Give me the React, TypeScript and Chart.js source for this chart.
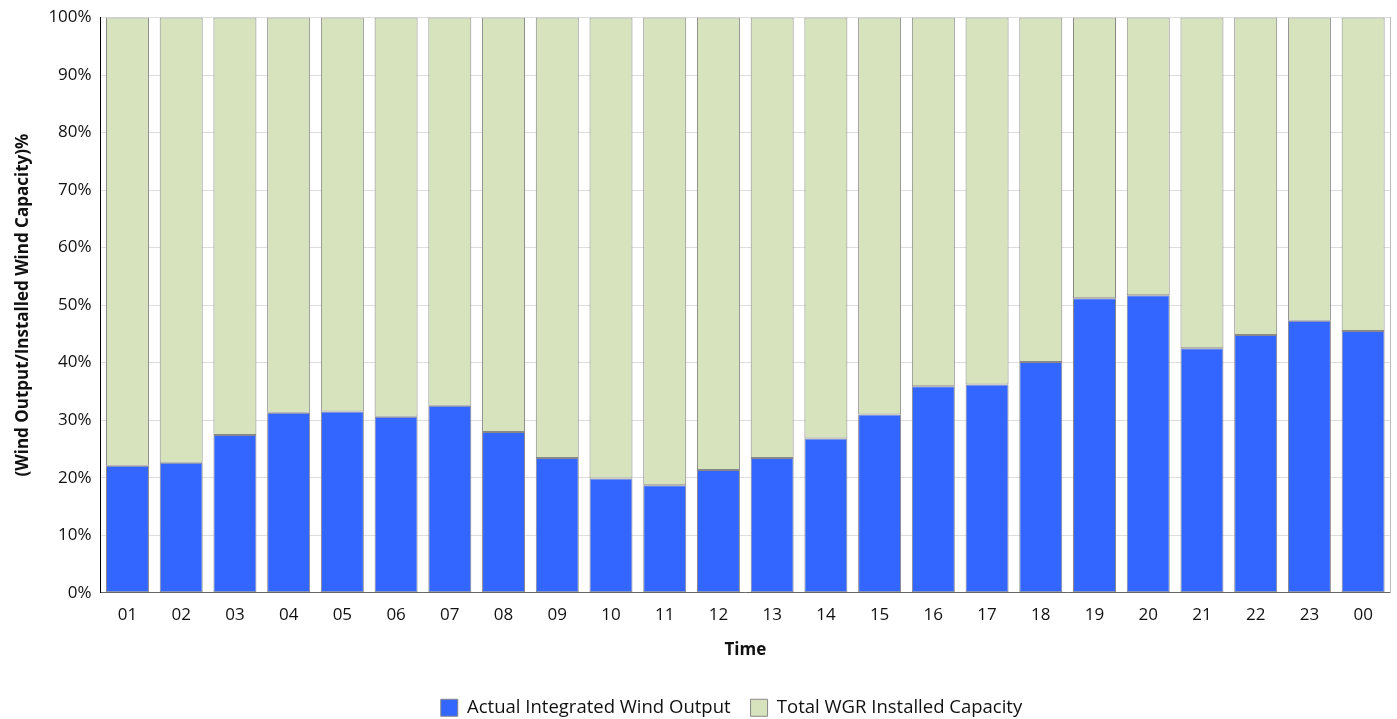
import React, { useEffect, useRef } from "react";
import { Chart, registerables } from "chart.js";

Chart.register(...registerables);

const hours = ["01","02","03","04","05","06","07","08","09","10","11","12","13","14","15","16","17","18","19","20","21","22","23","00"];
const actualOutput = [22.05,22.6,27.4,31.3,31.5,30.6,32.5,27.95,23.4,19.85,18.7,21.35,23.4,26.8,31.0,35.9,36.2,40.1,51.2,51.7,42.5,44.8,47.3,45.5];
const installedCapacity = [77.95,77.4,72.6,68.7,68.5,69.4,67.5,72.05,76.6,80.15,81.3,78.65,76.6,73.2,69.0,64.1,63.8,59.9,48.8,48.3,57.5,55.2,52.7,54.5];
const yTicks = [0,10,20,30,40,50,60,70,80,90,100];

const FONT = "'Open Sans', 'Noto Sans', sans-serif";

const legendShift = {
  id: "legendShift",
  afterLayout(chart: any) {
    const lg = chart.legend;
    if (lg) {
      lg.left += 32;
      lg.right += 32;
    }
  },
};

export default function App() {
  const ref = useRef<HTMLCanvasElement | null>(null);
  useEffect(() => {
    document.body.style.margin = "0";
    if (!ref.current) return;
    const chart = new Chart(ref.current, {
      type: "bar",
      data: {
        labels: hours,
        datasets: [
          {
            label: "Actual Integrated Wind Output",
            data: actualOutput,
            backgroundColor: "#3366FF",
            borderColor: "#888888",
            borderWidth: 1,
            borderSkipped: false,
          },
          {
            label: "Total WGR Installed Capacity",
            data: installedCapacity,
            backgroundColor: "#D7E3BD",
            borderColor: "#888888",
            borderWidth: 1,
            borderSkipped: false,
          },
        ],
      },
      plugins: [legendShift],
      options: {
        animation: false,
        responsive: true,
        maintainAspectRatio: false,
        layout: { padding: { top: 2, right: 7, left: 9, bottom: -8 } },
        datasets: { bar: { categoryPercentage: 0.8, barPercentage: 1 } },
        plugins: {
          legend: {
            position: "bottom",
            labels: {
              color: "#111",
              font: { family: FONT, size: 18.5 },
              boxWidth: 17,
              boxHeight: 17,
              padding: 20,
            },
          },
          tooltip: { enabled: false },
        },
        scales: {
          x: {
            stacked: true,
            grid: { display: false },
            border: { color: "#666", width: 1 },
            ticks: { color: "#111", font: { family: FONT, size: 17 }, padding: 4 },
            title: {
              display: true,
              text: "Time",
              color: "#111",
              font: { family: FONT, size: 17, weight: "bold" },
              padding: { top: 11, bottom: 18 },
            },
          },
          y: {
            stacked: true,
            min: 0,
            max: 100,
            afterBuildTicks: (axis: any) => {
              axis.ticks = yTicks.map((v) => ({ value: v }));
            },
            grid: { color: "#dddddd", drawTicks: false },
            border: { color: "#000", width: 1 },
            ticks: {
              color: "#111",
              font: { family: FONT, size: 17, lineHeight: 1 },
              padding: 9,
              callback: (v: any) => v + "%",
            },
            title: {
              display: true,
              text: "(Wind Output/Installed Wind Capacity)%",
              color: "#111",
              font: { family: FONT, size: 17, weight: "bold" },
              padding: { bottom: 6 },
            },
          },
          y2: {
            position: "right",
            min: 0,
            max: 100,
            grid: { display: false, drawTicks: false },
            border: { color: "#bbbbbb", width: 1 },
            ticks: { display: false },
          },
        },
      },
    });
    return () => chart.destroy();
  }, []);
  return (
    <div style={{ width: 1397, height: 719, position: "relative" }}>
      <canvas ref={ref} />
    </div>
  );
}
